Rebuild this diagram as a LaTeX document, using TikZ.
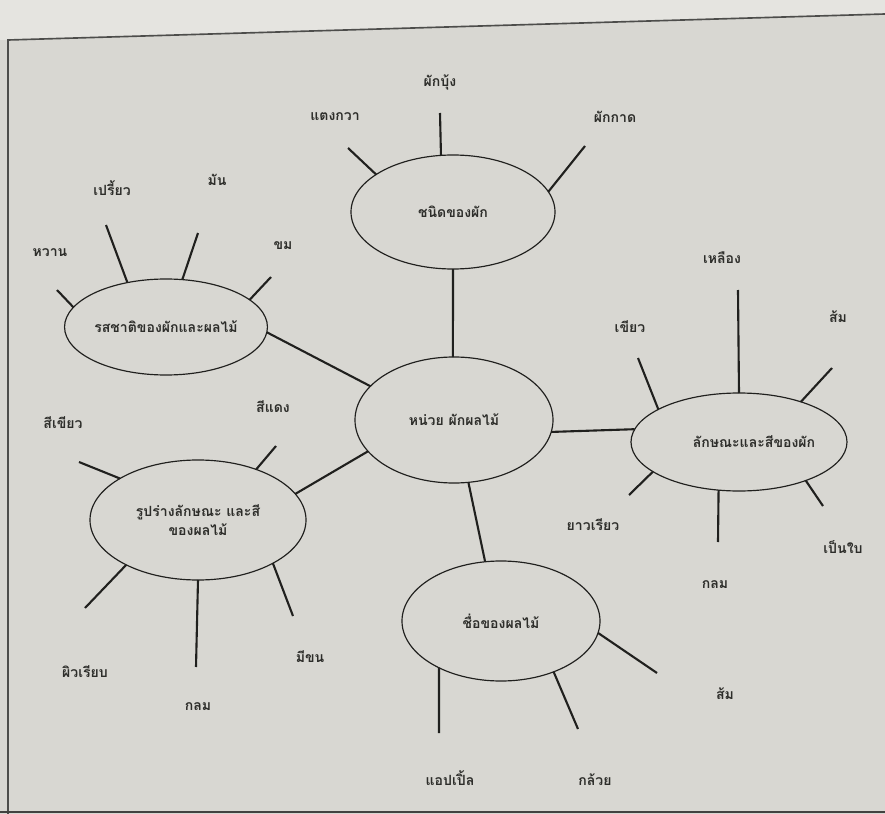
\documentclass[tikz,border=0pt]{standalone}
\usepackage{fontspec}
\newfontfamily\thaifont[Script=Thai]{Loma}
\usepackage{tikz}
\usetikzlibrary{shapes,positioning}
\usepackage{xcolor}
\definecolor{paper}{RGB}{216,215,210}
\definecolor{paperlight}{RGB}{229,228,224}
\definecolor{ink}{RGB}{32,32,30}
\definecolor{inktext}{RGB}{45,45,42}
\tikzstyle{topic} = [ellipse, draw=ink, line width=1pt, inner sep=0pt, outer sep=0pt, align=center, text=inktext, font=\thaifont\bfseries\fontsize{12}{16}\selectfont]
\tikzstyle{leaflabel} = [text=inktext, font=\thaifont\bfseries\fontsize{12}{14}\selectfont]
\tikzstyle{spoke} = [line width=1.8pt, color=ink]
\tikzstyle{frameline} = [line width=1.4pt, color=ink!80]

\begin{document}
\begin{tikzpicture}[x=0.03cm, y=-0.03cm]
    % Paper
    \useasboundingbox (0,0) rectangle (885,814);
    \fill[paper] (0,0) rectangle (885,814);
    \fill[paperlight] (0,0) -- (885,0) -- (885,14) -- (8,40) -- (0,40) -- cycle;
    \draw[frameline] (8,814) -- (8,40) -- (885,14);
    \draw[line width=2pt, ink!85] (0,812) -- (885,812);

    % Topics
    \node[topic, minimum width=5.94cm, minimum height=3.78cm] (hub) at (454,420) {หน่วย ผักผลไม้};
    \node[topic, minimum width=6.12cm, minimum height=3.42cm] (veg) at (453,212) {ชนิดของผัก};
    \node[topic, minimum width=6.06cm, minimum height=2.88cm] (taste) at (166,327) {รสชาติของผักและผลไม้};
    \node[topic, minimum width=6.48cm, minimum height=2.94cm] (vegcolor) at (739,442) {\hspace*{0.9cm}ลักษณะและสีของผัก};
    \node[topic, minimum width=6.48cm, minimum height=3.60cm] (fruitcolor) at (198,520) {รูปร่างลักษณะ และสี\\ของผลไม้};
    \node[topic, minimum width=5.94cm, minimum height=3.60cm] (fruitname) at (501,621) {ชื่อของผลไม้};

    % Hub connections
    \draw[spoke] (hub.91) -- (veg.-90);
    \draw[spoke] (hub.158) -- (taste.-3);
    \draw[spoke] (hub.-7) -- (vegcolor.173.5);
    \draw[spoke] (hub.200) -- (fruitcolor.15.5);
    \draw[spoke] (hub.-77.5) -- (fruitname.105.8);

    % Kinds of vegetables
    \coordinate (cucumberend) at (348,148);
    \coordinate (morningend) at (440,113);
    \coordinate (cabbageend) at (585,146);
    \draw[spoke] (veg.154) -- (cucumberend);
    \draw[spoke] (veg.102.8) -- (morningend);
    \draw[spoke] (veg.12.8) -- (cabbageend);
    \node[leaflabel] (cucumber) at (335,117) {แตงกวา};
    \node[leaflabel] (morning) at (440,82) {ผักบุ้ง};
    \node[leaflabel] (cabbage) at (615,117) {ผักกาด};

    % Tastes
    \coordinate (sweetend) at (57,290);
    \coordinate (sourend) at (106,225);
    \coordinate (oilyend) at (198,233);
    \coordinate (bitterend) at (271,277);
    \draw[spoke] (taste.168) -- (sweetend);
    \draw[spoke] (taste.131.6) -- (sourend);
    \draw[spoke] (taste.71) -- (oilyend);
    \draw[spoke] (taste.18) -- (bitterend);
    \node[leaflabel] (sweet) at (50,253) {หวาน};
    \node[leaflabel] (sour) at (112,188) {เปรี้ยว};
    \node[leaflabel] (oily) at (217,180) {มัน};
    \node[leaflabel] (bitter) at (283,246) {ขม};

    % Looks and colours of vegetables
    \coordinate (greenend) at (638,358);
    \coordinate (yellowend) at (738,290);
    \coordinate (orangeend) at (832,368);
    \coordinate (leafyend) at (823,506);
    \coordinate (roundend) at (718,542);
    \coordinate (longend) at (629,495);
    \draw[spoke] (vegcolor.158.4) -- (greenend);
    \draw[spoke] (vegcolor.90) -- (yellowend);
    \draw[spoke] (vegcolor.33) -- (orangeend);
    \draw[spoke] (vegcolor.-30.7) -- (leafyend);
    \draw[spoke] (vegcolor.-113) -- (roundend);
    \draw[spoke] (vegcolor.-161) -- (longend);
    \node[leaflabel] (green) at (630,327) {เขียว};
    \node[leaflabel] (yellow) at (722,258) {เหลือง};
    \node[leaflabel] (orange) at (838,317) {ส้ม};
    \node[leaflabel] (leafy) at (843,547) {เป็นใบ};
    \node[leaflabel] (round) at (715,585) {กลม};
    \node[leaflabel] (long) at (593,525) {ยาวเรียว};

    % Shape and colour of fruits
    \coordinate (fgreenend) at (79,462);
    \coordinate (fredend) at (276,446);
    \coordinate (smoothend) at (85,608);
    \coordinate (froundend) at (196,667);
    \coordinate (hairyend) at (293,616);
    \draw[spoke] (fruitcolor.152.8) -- (fgreenend);
    \draw[spoke] (fruitcolor.41.3) -- (fredend);
    \draw[spoke] (fruitcolor.-148.7) -- (smoothend);
    \draw[spoke] (fruitcolor.-90) -- (froundend);
    \draw[spoke] (fruitcolor.-30.4) -- (hairyend);
    \node[leaflabel] (fgreen) at (63,423) {สีเขียว};
    \node[leaflabel] (fred) at (273,407) {สีแดง};
    \node[leaflabel] (smooth) at (85,672) {ผิวเรียบ};
    \node[leaflabel] (fround) at (198,707) {กลม};
    \node[leaflabel] (hairy) at (310,657) {มีขน};

    % Names of fruits
    \coordinate (appleend) at (439,733);
    \coordinate (bananaend) at (578,729);
    \coordinate (fruitorangeend) at (657,673);
    \draw[spoke] (fruitname.-143) -- (appleend);
    \draw[spoke] (fruitname.-44) -- (bananaend);
    \draw[spoke] (fruitname.-7) -- (fruitorangeend);
    \node[leaflabel] (apple) at (450,778) {แอปเปิ้ล};
    \node[leaflabel] (banana) at (595,780) {กล้วย};
    \node[leaflabel] (fruitorange) at (725,694) {ส้ม};
\end{tikzpicture}
\end{document}
